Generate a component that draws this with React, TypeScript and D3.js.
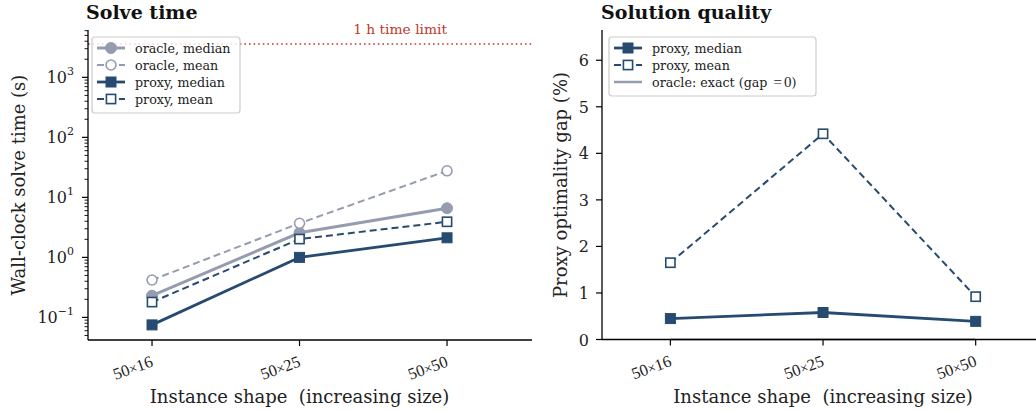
import React from "react";
import * as d3 from "d3";

const categories = ["50×16", "50×25", "50×50"];
const oracleMedianTime = [0.23, 2.57, 6.6];
const oracleMeanTime = [0.42, 3.7, 27.7];
const proxyMedianTime = [0.075, 1.0, 2.12];
const proxyMeanTime = [0.18, 2.02, 3.92];
const proxyMedianGap = [0.45, 0.58, 0.39];
const proxyMeanGap = [1.65, 4.42, 0.92];
const oracleGap = [0, 0, 0];
const timeLimit = 3600;
const logTickExps = [-1, 0, 1, 2, 3];
const gapTicks = [0, 1, 2, 3, 4, 5, 6];

const ORACLE = "#959cb0";
const PROXY = "#274b70";
const RED = "#c0392b";
const SERIF = "'DejaVu Serif', serif";
const MATH = "'Liberation Serif', 'DejaVu Serif', serif";

type Series = {
  values: number[];
  color: string;
  width: number;
  dash?: string;
  marker: "circle" | "square";
  filled: boolean;
  label: string;
};

function Marker({ x, y, s }: { x: number; y: number; s: Series }) {
  if (s.marker === "circle") {
    return (
      <circle
        cx={x}
        cy={y}
        r={s.filled ? 5.5 : 5}
        fill={s.filled ? s.color : "white"}
        stroke={s.color}
        strokeWidth={s.filled ? 1 : 1.6}
      />
    );
  }
  const h = s.filled ? 5 : 4.6;
  return (
    <rect
      x={x - h}
      y={y - h}
      width={2 * h}
      height={2 * h}
      fill={s.filled ? s.color : "white"}
      stroke={s.color}
      strokeWidth={s.filled ? 1 : 1.6}
    />
  );
}

function XTicks({ x, y0 }: { x: d3.ScaleLinear<number, number>; y0: number }) {
  return (
    <g>
      {categories.map((c, i) => {
        const px = x(i);
        const [a, b] = c.split("×");
        return (
          <g key={c}>
            <line x1={px} x2={px} y1={y0} y2={y0 + 6} stroke="black" strokeWidth={1.2} />
            <text
              transform={`translate(${px + 2},${y0 + 26}) rotate(-20)`}
              textAnchor="end"
              fontFamily={MATH}
              fontSize={16.5}
              fill="#222"
            >
              {a}
              <tspan fontSize={14}>×</tspan>
              {b}
            </text>
          </g>
        );
      })}
    </g>
  );
}

function Legend({
  x0,
  y0,
  w,
  items,
}: {
  x0: number;
  y0: number;
  w: number;
  items: any[];
}) {
  const rowH = 17;
  const h = items.length * rowH + 8;
  return (
    <g>
      <rect x={x0} y={y0} width={w} height={h} rx={3} fill="white" fillOpacity={0.8} stroke="#cccccc" strokeWidth={1.2} />
      {items.map((it: any, i) => {
        const cy = y0 + 11 + i * rowH;
        const hx0 = x0 + 5;
        const hx1 = x0 + 33;
        return (
          <g key={i}>
            <line
              x1={hx0}
              x2={hx1}
              y1={cy}
              y2={cy}
              stroke={it.color}
              strokeWidth={it.width}
              strokeDasharray={it.dash || undefined}
            />
            {!it.plain && <Marker x={(hx0 + hx1) / 2} y={cy} s={it} />}
            <text x={x0 + 43} y={cy + 4.5} fontFamily={SERIF} fontSize={12.7} fill="#222">
              {it.label}
            </text>
          </g>
        );
      })}
    </g>
  );
}

export default function App() {
  const W = 1036;
  const H = 411;
  const top = 30;
  const bottom = 340;

  // Left panel
  const xL = d3.scaleLinear().domain([-0.434, 2.576]).range([88, 532]);
  const yL = d3.scaleLog().domain([0.042, 6150]).range([bottom, top]);
  // Right panel
  const xR = d3.scaleLinear().domain([-0.448, 2.572]).range([602, 1063]);
  const yR = d3.scaleLinear().domain([0, 6.65]).range([339.5, top]);

  const leftSeries: Series[] = [
    { values: oracleMedianTime, color: ORACLE, width: 3, marker: "circle", filled: true, label: "oracle, median" },
    { values: oracleMeanTime, color: ORACLE, width: 2, dash: "7,4", marker: "circle", filled: false, label: "oracle, mean" },
    { values: proxyMedianTime, color: PROXY, width: 2.8, marker: "square", filled: true, label: "proxy, median" },
    { values: proxyMeanTime, color: PROXY, width: 2, dash: "7,4", marker: "square", filled: false, label: "proxy, mean" },
  ];
  const rightSeries: Series[] = [
    { values: proxyMedianGap, color: PROXY, width: 2.8, marker: "square", filled: true, label: "proxy, median" },
    { values: proxyMeanGap, color: PROXY, width: 2, dash: "7,4", marker: "square", filled: false, label: "proxy, mean" },
  ];

  const lineL = (vals: number[]) =>
    d3.line<number>().x((_, i) => xL(i)).y((v) => yL(v))(vals) || "";
  const lineR = (vals: number[]) =>
    d3.line<number>().x((_, i) => xR(i)).y((v) => yR(v))(vals) || "";

  const [ymin, ymax] = yL.domain();
  const minorTicks: number[] = [];
  for (let e = -2; e <= 4; e++) {
    for (let m = 2; m <= 9; m++) {
      const v = m * Math.pow(10, e);
      if (v >= ymin && v <= ymax) minorTicks.push(v);
    }
  }

  const xlabelStyle = { whiteSpace: "pre" as const };

  return (
    <svg width={W} height={H} style={{ display: "block", position: "absolute", left: 0, top: 0 }}>
      <rect width={W} height={H} fill="white" />

      {/* ---------- Left panel ---------- */}
      <text x={86} y={19} fontFamily={SERIF} fontWeight="bold" fontSize={19} fill="#111">
        Solve time
      </text>
      <line
        x1={xL.range()[0]}
        x2={xL.range()[1]}
        y1={yL(timeLimit)}
        y2={yL(timeLimit)}
        stroke={RED}
        strokeWidth={1.6}
        strokeDasharray="1.6,3"
      />
      <text x={xL(2)} y={yL(timeLimit) - 10} textAnchor="end" fontFamily={SERIF} fontSize={13.8} fill={RED}>
        1 h time limit
      </text>

      {leftSeries.map((s, i) => (
        <g key={i}>
          <path d={lineL(s.values)} fill="none" stroke={s.color} strokeWidth={s.width} strokeDasharray={s.dash} />
          {s.values.map((v, j) => (
            <Marker key={j} x={xL(j)} y={yL(v)} s={s} />
          ))}
        </g>
      ))}

      <line x1={88} x2={88} y1={top} y2={bottom} stroke="black" strokeWidth={1.3} />
      <line x1={88} x2={xL.range()[1]} y1={bottom} y2={bottom} stroke="black" strokeWidth={1.3} />
      {minorTicks.map((v) => (
        <line key={v} x1={88 - 3.5} x2={88} y1={yL(v)} y2={yL(v)} stroke="black" strokeWidth={0.9} />
      ))}
      {logTickExps.map((e) => {
        const py = yL(Math.pow(10, e));
        return (
          <g key={e}>
            <line x1={88 - 6} x2={88} y1={py} y2={py} stroke="black" strokeWidth={1.2} />
            <text x={88 - 14} y={py + 5.5} textAnchor="end" fontFamily={SERIF} fontSize={16} fill="#222">
              10
              <tspan dy={-7.5} fontSize={11}>
                {e < 0 ? "−" + Math.abs(e) : String(e)}
              </tspan>
            </text>
          </g>
        );
      })}
      <XTicks x={xL} y0={bottom} />
      <text
        x={(xL(0) + xL(2)) / 2}
        y={403}
        textAnchor="middle"
        fontFamily={SERIF}
        fontSize={18}
        fill="#222"
        style={xlabelStyle}
      >
        {"Instance shape  (increasing size)"}
      </text>
      <text
        transform={`translate(25,${(top + bottom) / 2}) rotate(-90)`}
        textAnchor="middle"
        fontFamily={SERIF}
        fontSize={18}
        fill="#222"
      >
        Wall-clock solve time (s)
      </text>
      <Legend x0={92} y0={37} w={148} items={leftSeries} />

      {/* ---------- Right panel ---------- */}
      <text x={601} y={19} fontFamily={SERIF} fontWeight="bold" fontSize={19} fill="#111">
        Solution quality
      </text>
      <path d={lineR(oracleGap)} fill="none" stroke={ORACLE} strokeWidth={2} />
      {rightSeries.map((s, i) => (
        <g key={i}>
          <path d={lineR(s.values)} fill="none" stroke={s.color} strokeWidth={s.width} strokeDasharray={s.dash} />
          {s.values.map((v, j) => (
            <Marker key={j} x={xR(j)} y={yR(v)} s={s} />
          ))}
        </g>
      ))}
      <line x1={602} x2={602} y1={top} y2={339.5} stroke="black" strokeWidth={1.3} />
      <line x1={602} x2={xR.range()[1]} y1={339.5} y2={339.5} stroke="black" strokeWidth={1.3} />
      {gapTicks.map((t) => (
        <g key={t}>
          <line x1={602 - 6} x2={602} y1={yR(t)} y2={yR(t)} stroke="black" strokeWidth={1.2} />
          <text x={602 - 13} y={yR(t) + 6} textAnchor="end" fontFamily={SERIF} fontSize={16} fill="#222">
            {t}
          </text>
        </g>
      ))}
      <XTicks x={xR} y0={339.5} />
      <text
        x={(xR(0) + xR(2)) / 2}
        y={403}
        textAnchor="middle"
        fontFamily={SERIF}
        fontSize={18}
        fill="#222"
        style={xlabelStyle}
      >
        {"Instance shape  (increasing size)"}
      </text>
      <text
        transform={`translate(567,${(top + bottom) / 2}) rotate(-90)`}
        textAnchor="middle"
        fontFamily={SERIF}
        fontSize={18}
        fill="#222"
      >
        Proxy optimality gap (%)
      </text>
      <Legend
        x0={609}
        y0={37}
        w={207}
        items={[
          rightSeries[0],
          rightSeries[1],
          {
            label: (
              <>
                oracle: exact (gap
                <tspan dx={6} fontFamily={MATH} fontSize={15}>=</tspan>
                <tspan dx={2} fontFamily={MATH} fontSize={15}>0</tspan>)
              </>
            ),
            color: ORACLE,
            width: 2.5,
            plain: true,
          },
        ]}
      />
    </svg>
  );
}
